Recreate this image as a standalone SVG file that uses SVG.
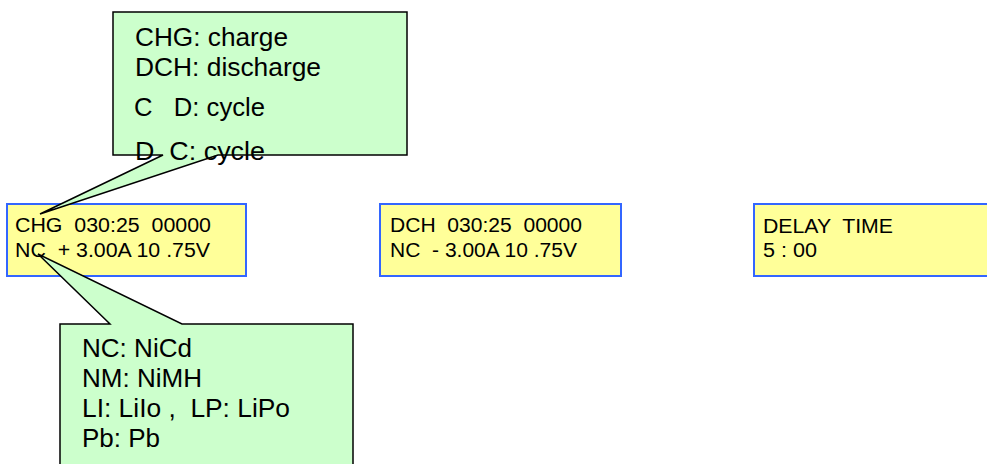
<svg xmlns="http://www.w3.org/2000/svg" width="987" height="464" viewBox="0 0 987 464">
<style>
.lcd{fill:#FFFF99;stroke:#3366FF;stroke-width:2}
.call{fill:#CCFFCC;stroke:#000;stroke-width:1.5;stroke-linejoin:miter}
.t16{font-family:"Liberation Sans",Arial,sans-serif;font-size:20px;fill:#000}
.t22{font-family:"Liberation Sans",Arial,sans-serif;font-size:26px;fill:#000}
</style>
<rect width="987" height="464" fill="#fff"/>
<g id="lcd-charge">
<rect class="lcd" x="7" y="204" width="239" height="72"/>
<text class="t16" x="15" y="232" textLength="196" lengthAdjust="spacingAndGlyphs" xml:space="preserve">CHG  030:25  00000</text>
<text class="t16" x="15" y="257" textLength="195" lengthAdjust="spacingAndGlyphs" xml:space="preserve">NC  + 3.00A 10 .75V</text>
</g>
<g id="lcd-discharge">
<rect class="lcd" x="380" y="204" width="241" height="72"/>
<text class="t16" x="390" y="232" textLength="192" lengthAdjust="spacingAndGlyphs" xml:space="preserve">DCH  030:25  00000</text>
<text class="t16" x="390" y="257" textLength="187" lengthAdjust="spacingAndGlyphs" xml:space="preserve">NC  - 3.00A 10 .75V</text>
</g>
<g id="lcd-delay">
<rect class="lcd" x="754" y="204" width="245" height="72"/>
<text class="t16" x="763" y="233" textLength="130" lengthAdjust="spacingAndGlyphs" xml:space="preserve">DELAY  TIME</text>
<text class="t16" x="763" y="257" textLength="54" lengthAdjust="spacingAndGlyphs" xml:space="preserve">5 : 00</text>
</g>
<g id="callout-mode">
<path class="call" d="M113,12 H407 V155 H218 L40,214 L163,155 H113 Z"/>
<text class="t22" x="135" y="46" textLength="153" lengthAdjust="spacingAndGlyphs" xml:space="preserve">CHG: charge</text>
<text class="t22" x="135" y="76" textLength="186" lengthAdjust="spacingAndGlyphs" xml:space="preserve">DCH: discharge</text>
<text class="t22" x="134" y="116" textLength="131" lengthAdjust="spacingAndGlyphs" xml:space="preserve">C   D: cycle</text>
<text class="t22" x="135" y="160" textLength="130" lengthAdjust="spacingAndGlyphs" xml:space="preserve">D  C: cycle</text>
</g>
<g id="callout-battery">
<path class="call" d="M60,324 H110 L38,254 L182,324 H353 V470 H60 Z"/>
<text class="t22" x="82" y="357" textLength="110" lengthAdjust="spacingAndGlyphs" xml:space="preserve">NC: NiCd</text>
<text class="t22" x="82" y="387" textLength="120" lengthAdjust="spacingAndGlyphs" xml:space="preserve">NM: NiMH</text>
<text class="t22" x="82" y="417" textLength="208" lengthAdjust="spacingAndGlyphs" xml:space="preserve">LI: LiIo ,  LP: LiPo</text>
<text class="t22" x="82" y="447" textLength="78" lengthAdjust="spacingAndGlyphs" xml:space="preserve">Pb: Pb</text>
</g>
<g id="connectors"/>
</svg>
